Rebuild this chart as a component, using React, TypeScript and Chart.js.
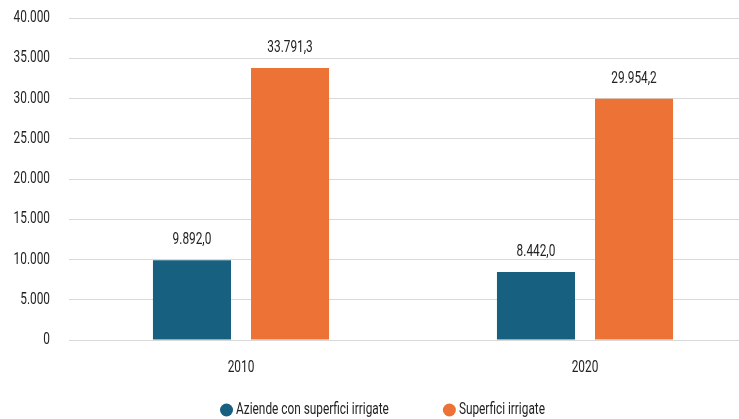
import React, { useEffect, useRef } from "react";
import { Chart, registerables } from "chart.js";

Chart.register(...registerables);

const categories = ["2010", "2020"];
const seriesNames = ["Aziende con superfici irrigate", "Superfici irrigate"];
const aziende = [9892.0, 8442.0];
const superfici = [33791.3, 29954.2];
const colors = ["#17607f", "#ec7235"];
const yTickStep = 5000;
const yMax = 40000;

const FONT = "Roboto, 'Liberation Sans', sans-serif";
const FONT_SIZE = 16;
const SX = 0.74;
const TEXT_COLOR = "#222222";

function fmt(v: number, dec: number): string {
  const neg = v < 0;
  const fixed = Math.abs(v).toFixed(dec);
  const [intPart, decPart] = fixed.split(".");
  const grouped = intPart.replace(/\B(?=(\d{3})+(?!\d))/g, ".");
  return (neg ? "-" : "") + grouped + (decPart !== undefined ? "," + decPart : "");
}

function drawText(ctx: CanvasRenderingContext2D, text: string, x: number, y: number, align: CanvasTextAlign) {
  ctx.save();
  ctx.translate(x, y);
  ctx.scale(SX, 1);
  ctx.textAlign = align;
  ctx.textBaseline = "middle";
  ctx.fillText(text, 0, 0);
  ctx.restore();
}

function textW(ctx: CanvasRenderingContext2D, text: string) {
  return ctx.measureText(text).width * SX;
}

const textPlugin = {
  id: "condensedText",
  afterDraw(chart: any) {
    const ctx: CanvasRenderingContext2D = chart.ctx;
    ctx.save();
    ctx.font = `${FONT_SIZE}px ${FONT}`;
    ctx.fillStyle = TEXT_COLOR;
    const area = chart.chartArea;

    // y tick labels
    const ys = chart.scales.y;
    ys.ticks.forEach((t: any) => {
      drawText(ctx, fmt(t.value, 0), area.left - 19, ys.getPixelForValue(t.value), "right");
    });

    // x tick labels
    const xs = chart.scales.x;
    chart.data.labels.forEach((lab: string, i: number) => {
      drawText(ctx, lab, xs.getPixelForValue(i), area.bottom + 28, "center");
    });

    // bar value labels
    chart.data.datasets.forEach((ds: any, i: number) => {
      const meta = chart.getDatasetMeta(i);
      meta.data.forEach((bar: any, j: number) => {
        drawText(ctx, fmt(ds.data[j], 1), bar.x, bar.y - 20, "center");
      });
    });

    // legend
    const r = 6.5;
    const gapText = 3;
    const itemGap = 54;
    const widths = chart.data.datasets.map((ds: any) => 2 * r + gapText + textW(ctx, ds.label));
    const total = widths.reduce((a: number, b: number) => a + b, 0) + itemGap * (widths.length - 1);
    let x = chart.width / 2 + 4 - total / 2;
    const ly = 410;
    chart.data.datasets.forEach((ds: any, i: number) => {
      ctx.beginPath();
      ctx.fillStyle = ds.backgroundColor;
      ctx.arc(x + r, ly, r, 0, Math.PI * 2);
      ctx.fill();
      ctx.fillStyle = TEXT_COLOR;
      drawText(ctx, ds.label, x + 2 * r + gapText, ly, "left");
      x += widths[i] + itemGap;
    });
    ctx.restore();
  },
};

export default function App() {
  const ref = useRef<HTMLCanvasElement | null>(null);
  useEffect(() => {
    document.body.style.margin = "0";
    document.body.style.overflow = "hidden";
    document.documentElement.style.overflow = "hidden";
    if (!ref.current) return;
    const chart = new Chart(ref.current, {
      type: "bar",
      data: {
        labels: categories,
        datasets: [
          { label: seriesNames[0], data: aziende, backgroundColor: colors[0] },
          { label: seriesNames[1], data: superfici, backgroundColor: colors[1] },
        ],
      },
      options: {
        animation: false,
        responsive: false,
        maintainAspectRatio: false,
        layout: { padding: { top: 18, right: 0, left: 0, bottom: 0 } },
        datasets: { bar: { categoryPercentage: 0.57, barPercentage: 0.796 } } as any,
        plugins: {
          tooltip: { enabled: false },
          legend: { display: false },
        },
        scales: {
          x: {
            grid: { display: false },
            border: { color: "#d9d9d9" },
            ticks: { display: false },
            afterFit(scale: any) {
              scale.height = 79;
            },
          },
          y: {
            min: 0,
            max: yMax,
            afterFit(scale: any) {
              scale.width = 69;
            },
            border: { display: false },
            grid: { color: "#d9d9d9", drawTicks: false },
            ticks: { display: false, stepSize: yTickStep },
          },
        },
      },
      plugins: [textPlugin],
    });
    return () => chart.destroy();
  }, []);
  return (
    <div style={{ position: "fixed", left: 0, top: 0, width: 757, height: 419 }}>
      <canvas ref={ref} width={757} height={419} style={{ width: 757, height: 419 }} />
    </div>
  );
}
